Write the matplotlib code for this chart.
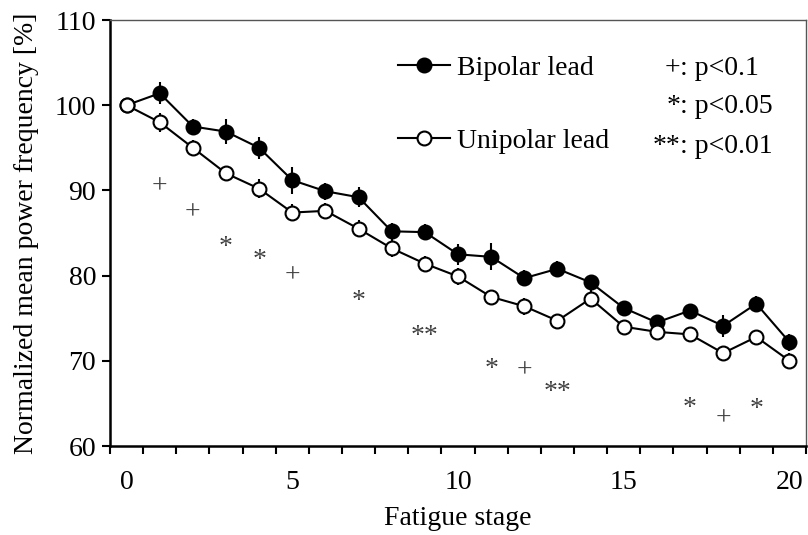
import matplotlib
matplotlib.use('Agg')
import matplotlib.pyplot as plt
import matplotlib.transforms as mtransforms
from matplotlib.lines import Line2D
import numpy as np

plt.rcParams['font.family'] = ['Liberation Serif', 'DejaVu Serif']

# dane
stage = list(range(21))
bipolar = [100.0, 101.4, 97.5, 96.9, 95.0, 91.2, 89.9, 89.2, 85.2, 85.1, 82.5,
           82.2, 79.7, 80.8, 79.2, 76.2, 74.5, 75.9, 74.1, 76.7, 72.2]
bipolar_err = [0.0, 1.3, 0.9, 1.5, 1.3, 1.6, 1.0, 1.2, 1.0, 0.9, 1.2,
               1.6, 0.9, 0.9, 0.8, 0.8, 0.7, 0.8, 1.3, 0.9, 1.0]
unipolar = [100.0, 98.0, 95.0, 92.0, 90.2, 87.4, 87.6, 85.5, 83.2, 81.4, 79.9,
            77.5, 76.4, 74.7, 77.3, 74.0, 73.4, 73.1, 70.9, 72.8, 70.0]
unipolar_err = [0.0, 1.1, 0.9, 0.9, 1.1, 1.0, 0.9, 1.0, 1.0, 0.9, 1.0,
                0.7, 1.0, 0.6, 1.0, 0.7, 0.9, 0.6, 0.6, 0.6, 0.9]

# znaki istotności (środek znaku)
sig_x = [1, 2, 3, 4, 5, 7, 9, 11, 12, 13, 17, 18, 19]
sig_y = [90.6, 87.6, 84.2, 82.6, 80.1, 77.8, 73.7, 69.9, 69.0, 67.2, 65.3, 63.4, 65.2]
sig_label = ['+', '+', '*', '*', '+', '*', '**', '*', '+', '**', '*', '+', '*']

legend_labels = ['Bipolar lead', 'Unipolar lead']
p_symbols = ['+', '*', '**']
p_texts = [': p<0.1', ': p<0.05', ': p<0.01']

fs = 20

fig = plt.figure(figsize=(8.08, 5.35), dpi=100)
ax = fig.add_axes([110/808, 89/535, 696/808, 426/535])

ax.errorbar(stage, bipolar, yerr=bipolar_err, fmt='-o', color='black',
            mfc='black', mec='black', ms=10, mew=1.5, lw=1.5, elinewidth=1.5,
            capsize=0, zorder=3)
ax.errorbar(stage, unipolar, yerr=unipolar_err, fmt='-o', color='black',
            mfc='white', mec='black', ms=10, mew=1.5, lw=1.5, elinewidth=1.5,
            capsize=0, zorder=4)

# przesunięcie linii bazowej, żeby środek znaku był w sig_y
offs = {'+': -5.8, '*': -10.0, '**': -10.0}
for x, y, s in zip(sig_x, sig_y, sig_label):
    tr = mtransforms.offset_copy(ax.transData, fig=fig, x=0, y=offs[s], units='points')
    ax.text(x, y, s, transform=tr, ha='center', va='baseline', fontsize=fs,
            color='#404040')

ax.set_xlim(-0.5, 20.5)
ax.set_ylim(60, 110)
ax.set_yticks(np.arange(60, 111, 10))
ax.set_xticks([0, 5, 10, 15, 20])
ax.set_xticks(np.arange(-0.5, 20.6, 1), minor=True)
ax.tick_params(axis='x', which='major', length=0, labelsize=fs, pad=17)
ax.tick_params(axis='x', which='minor', length=6, width=1.5, direction='out')
ax.tick_params(axis='y', length=6, width=1.5, direction='out', labelsize=fs, pad=4)

for side in ['left', 'bottom']:
    ax.spines[side].set_linewidth(1.8)
for side in ['top', 'right']:
    ax.spines[side].set_linewidth(1.0)
    ax.spines[side].set_color('#555555')

ax.set_xlabel('Fatigue stage', fontsize=fs, labelpad=8.5)
ax.set_ylabel('Normalized mean power frequency [%]', fontsize=fs, labelpad=11)

handles = [Line2D([], [], color='black', lw=1.5, marker='o', ms=10, mfc='black', mec='black', mew=1.5),
           Line2D([], [], color='black', lw=1.5, marker='o', ms=10, mfc='white', mec='black', mew=1.5)]
ax.legend(handles, legend_labels, loc='upper left', bbox_to_anchor=(0.414, 0.917),
          frameon=False, fontsize=fs, borderpad=0, handlelength=1.87,
          handletextpad=0.25, labelspacing=1.72, borderaxespad=0)

for s, t, yb in zip(p_symbols, p_texts, [0.870, 0.781, 0.687]):
    ax.text(0.819, yb, s, transform=ax.transAxes, ha='right', va='baseline', fontsize=fs)
    ax.text(0.819, yb, t, transform=ax.transAxes, ha='left', va='baseline', fontsize=fs)

fig.savefig('out.png', dpi=100)
